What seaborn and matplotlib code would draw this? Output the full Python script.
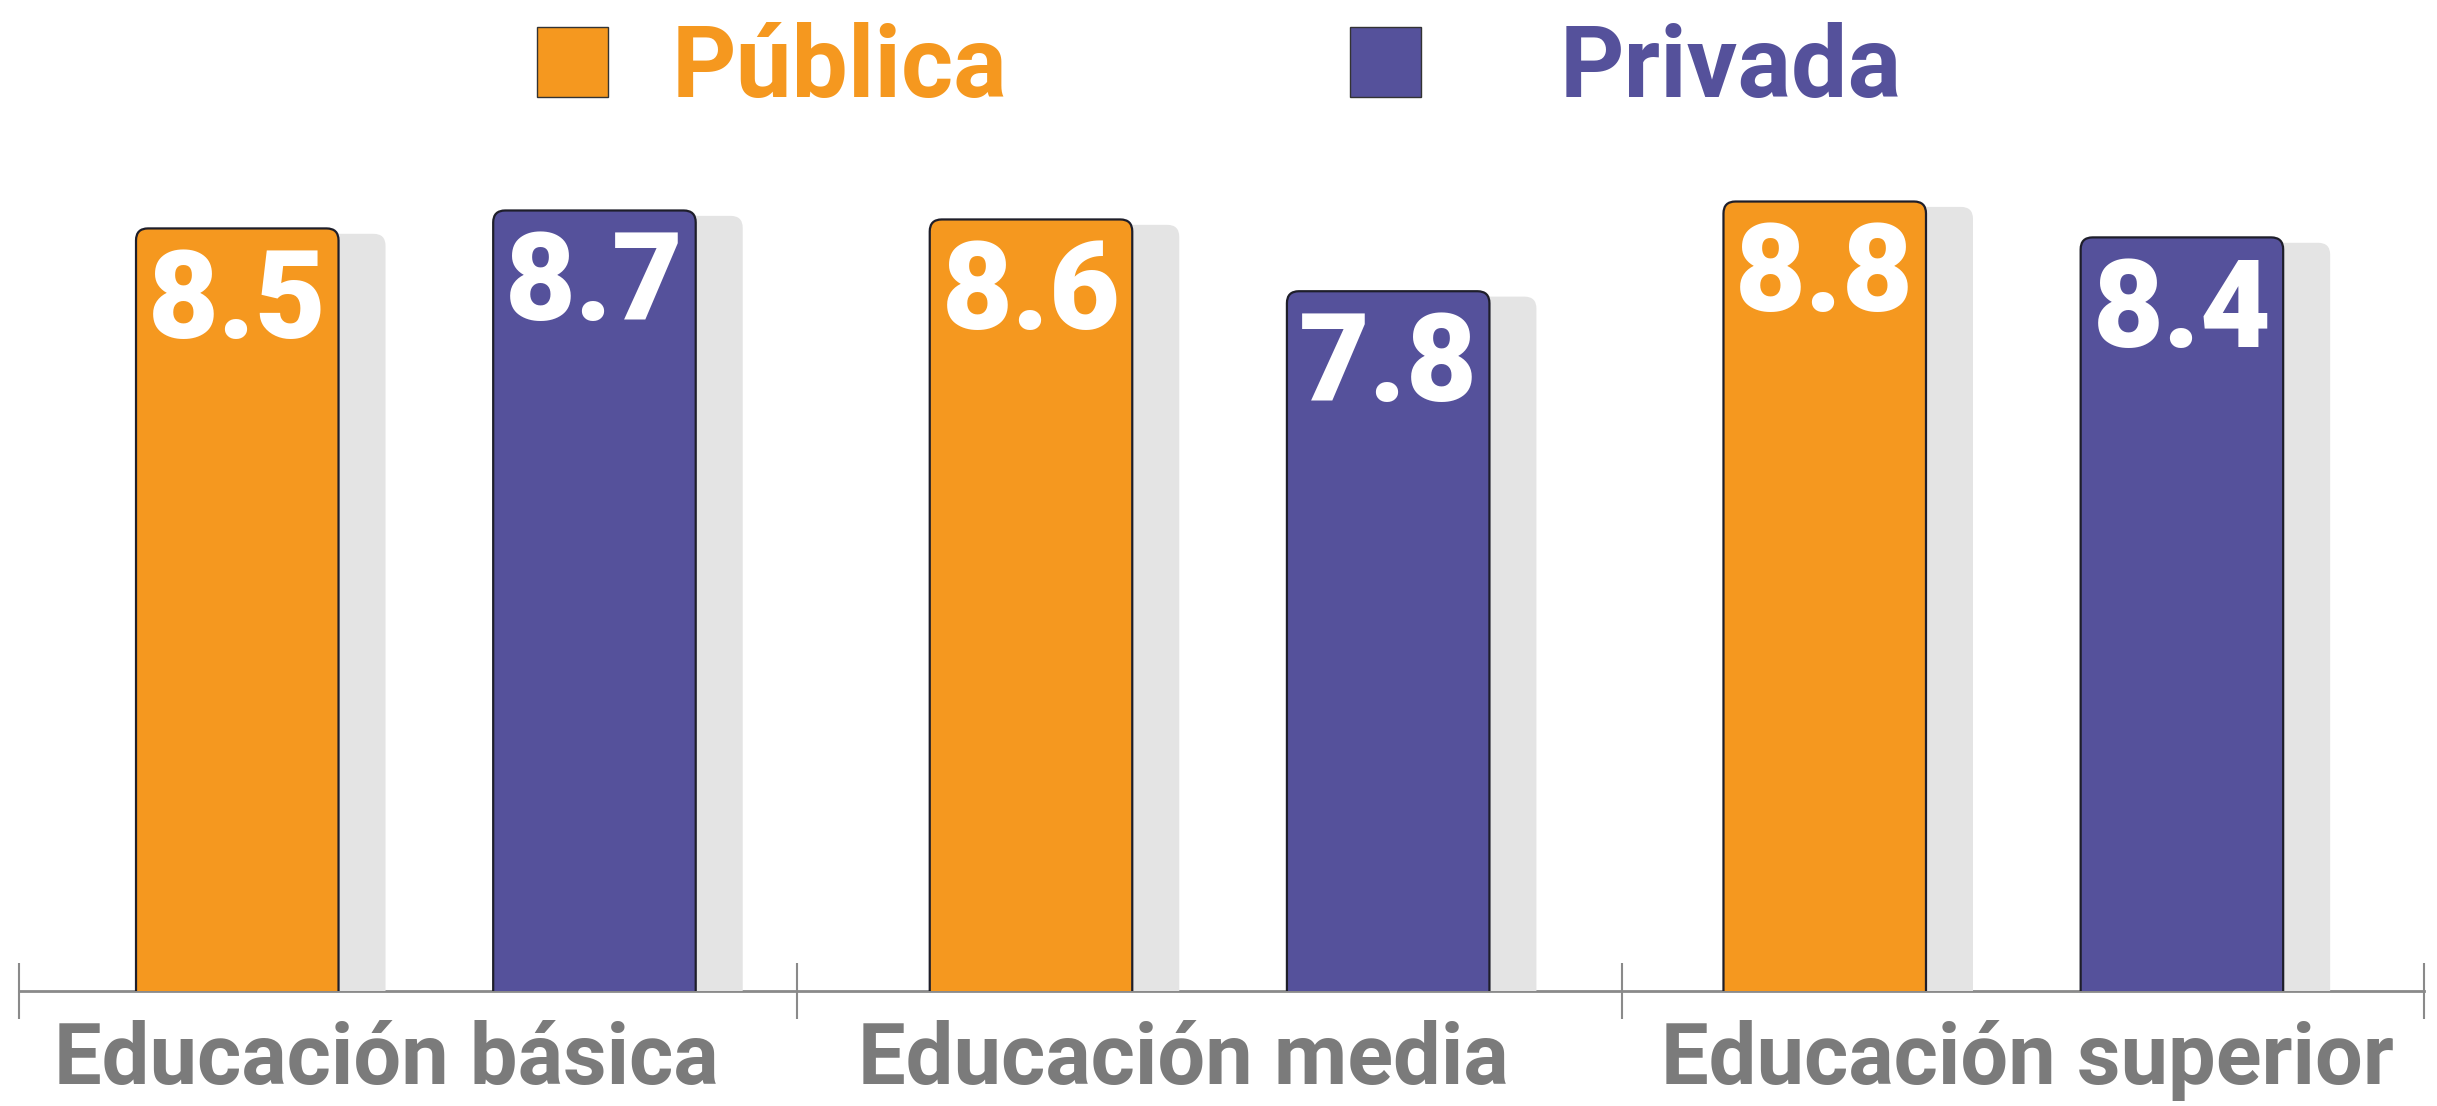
import numpy as np
import pandas as pd
import seaborn as sns
import matplotlib.pyplot as plt
import matplotlib.transforms as mtransforms
from matplotlib.patches import FancyBboxPatch, Rectangle

categories = ["Educación básica", "Educación media", "Educación superior"]
sectors = ["Pública", "Privada"]
publica = [8.5, 8.6, 8.8]
privada = [8.7, 7.8, 8.4]
value_labels = ["8.5", "8.6", "8.8", "8.7", "7.8", "8.4"]

orange = "#F5981F"
purple = "#55519B"
shadow = "#E4E4E4"
grey = "#7B7B7B"

df = pd.DataFrame({
    "nivel": categories * 2,
    "sector": [sectors[0]] * 3 + [sectors[1]] * 3,
    "promedio": publica + privada,
})

sns.set_style("white")
plt.rcParams["font.family"] = ["Roboto", "DejaVu Sans"]

W, H = 2437, 1106
fig = plt.figure(figsize=(W / 100, H / 100), dpi=100)
ax = fig.add_axes([19 / W, 115 / H, 2405 / W, 942 / H])

sns.barplot(data=df, x="nivel", y="promedio", hue="sector",
            palette=[orange, purple], saturation=1, width=0.9, gap=0.433,
            legend=False, ax=ax)

ax.set_xlim(-0.5, 2.53)
ax.set_ylim(0, 10.5)

# px per data unit, used for rounding and shadow offset
px_x = 2405 / 3.03
px_y = 942 / 10.5
r = 12 / px_x
aspect = px_x / px_y

bars = list(ax.patches)
for i, p in enumerate(bars):
    x, w, h = p.get_x(), p.get_width(), p.get_height()
    fc = p.get_facecolor()
    p.set_visible(False)
    # shadow behind
    sh = FancyBboxPatch((x + 47 / px_x, -0.5), w, h + 0.5 - 0.06,
                        boxstyle=f"round,pad=0,rounding_size={r}",
                        mutation_aspect=aspect, facecolor=shadow,
                        edgecolor="none", zorder=1)
    ax.add_patch(sh)
    bar = FancyBboxPatch((x, -0.5), w, h + 0.5,
                         boxstyle=f"round,pad=0,rounding_size={r}",
                         mutation_aspect=aspect, facecolor=fc,
                         edgecolor="#1E1E2A", linewidth=1.6, zorder=2)
    ax.add_patch(bar)
    ax.text(x + w / 2, h - 0.2, value_labels[i], ha="center", va="top",
            color="white", fontsize=88, fontweight="black", zorder=3)

for s in ["top", "right", "left"]:
    ax.spines[s].set_visible(False)
ax.spines["bottom"].set_color("#8A8A8A")
ax.spines["bottom"].set_linewidth(2)
ax.spines["bottom"].set_zorder(0.5)

ax.set_yticks([])
ax.set_xlabel("")
ax.set_ylabel("")
ax.set_xticks([-0.5, 0.48, 1.52, 2.53], minor=True)
ax.tick_params(axis="x", which="minor", bottom=True, direction="inout",
               length=40, width=1.5, color="#8A8A8A")
ax.tick_params(axis="x", which="major", length=0, pad=21,
               labelsize=61, labelcolor=grey)
# labels in the original are not quite centred under the groups
shifts = [-30, -26, 24]
for lab, dx in zip(ax.get_xticklabels(), shifts):
    lab.set_fontweight("bold")
    lab.set_transform(lab.get_transform() +
                      mtransforms.ScaledTranslation(dx / 100, 0,
                                                    fig.dpi_scale_trans))

# legend
fig.patches.append(Rectangle((537 / W, 1 - 97 / H), 71 / W, 70 / H,
                             transform=fig.transFigure, facecolor=orange,
                             edgecolor="#333333", linewidth=1))
fig.patches.append(Rectangle((1350 / W, 1 - 97 / H), 71 / W, 70 / H,
                             transform=fig.transFigure, facecolor=purple,
                             edgecolor="#333333", linewidth=1))
fig.text(672 / W, 1 - 97 / H, "Pública", color=orange, fontsize=72,
         fontweight="bold", va="baseline", ha="left")
fig.text(1560 / W, 1 - 97 / H, "Privada", color=purple, fontsize=72,
         fontweight="bold", va="baseline", ha="left")

fig.savefig("out.png", dpi=100)
